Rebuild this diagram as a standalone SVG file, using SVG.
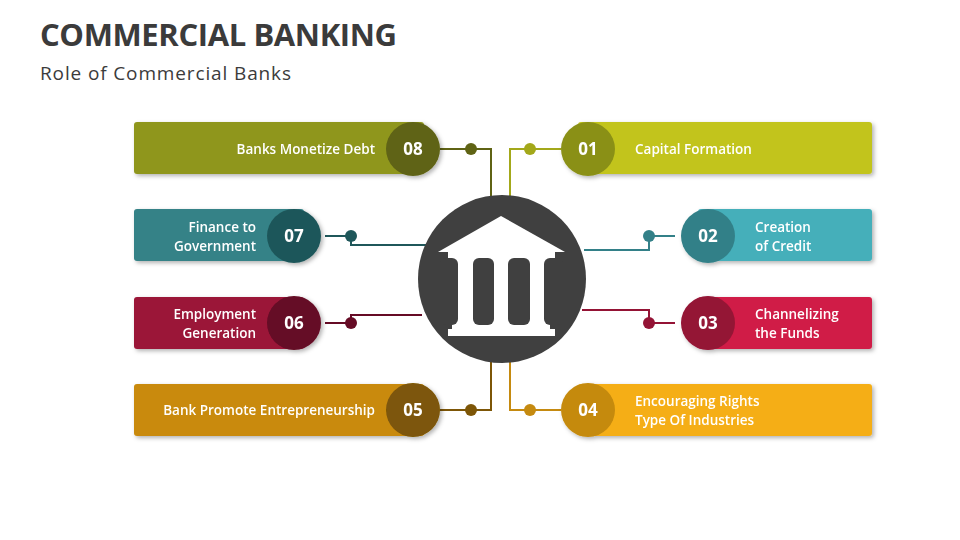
<svg xmlns="http://www.w3.org/2000/svg" width="960" height="540" viewBox="0 0 960 540">
<defs>
<filter id="sh" x="-20%" y="-30%" width="140%" height="160%"><feDropShadow dx="2" dy="2" stdDeviation="2" flood-color="#000" flood-opacity="0.3"/></filter>
<style>
text{font-family:"Open Sans","Liberation Sans",sans-serif;fill:#fff;font-weight:600}
.lbl{font-size:13.5px}
.num{font-size:17px;font-weight:700;text-anchor:middle}
.ln{fill:none;stroke-width:2}
</style>
</defs>
<rect width="960" height="540" fill="#fff"/>
<text x="40" y="46" style="font-size:31px;font-weight:700;fill:#3b3b3b" textLength="357">COMMERCIAL BANKING</text>
<text x="40" y="80" style="font-size:19px;font-weight:400;fill:#3b3b3b" textLength="251">Role of Commercial Banks</text>
<g id="connectors">
<polyline class="ln" stroke="#5F6314" points="440,149 491,149 491,198"/><circle cx="471" cy="149" r="6" fill="#5F6314"/>
<polyline class="ln" stroke="#A3A81A" points="561,149 510,149 510,198"/><circle cx="530" cy="149" r="6" fill="#A3A81A"/>
<polyline class="ln" stroke="#1F575A" points="325,236 351,236 351,245 428,245"/><circle cx="351" cy="236" r="6" fill="#1F575A"/>
<polyline class="ln" stroke="#338088" points="675,236 649,236 649,250 584,250"/><circle cx="649" cy="236" r="6" fill="#338088"/>
<polyline class="ln" stroke="#650B25" points="325,323 351,323 351,315 422,315"/><circle cx="351" cy="323" r="6" fill="#650B25"/>
<polyline class="ln" stroke="#941335" points="675,323 649,323 649,310 582,310"/><circle cx="649" cy="323" r="6" fill="#941335"/>
<polyline class="ln" stroke="#7D5607" points="440,410 491,410 491,360"/><circle cx="471" cy="410" r="6" fill="#7D5607"/>
<polyline class="ln" stroke="#C58A10" points="561,410 510,410 510,360"/><circle cx="530" cy="410" r="6" fill="#C58A10"/>
</g>
<g id="center">
<circle cx="502" cy="279" r="84" fill="#404040"/>
<polygon points="438,252 501,216 565,252" fill="#fff"/>
<rect x="448" y="252" width="107" height="84" fill="#fff"/>
<rect x="440" y="258" width="18" height="67" rx="6" fill="#404040"/>
<rect x="473" y="258" width="21" height="67" rx="6" fill="#404040"/>
<rect x="508" y="258" width="22" height="67" rx="6" fill="#404040"/>
<rect x="544" y="258" width="19" height="67" rx="6" fill="#404040"/>
<rect x="440" y="325" width="12" height="4" fill="#404040"/>
<rect x="550" y="325" width="12" height="4" fill="#404040"/>
</g>
<g id="n08" filter="url(#sh)"><rect x="134" y="122" width="290" height="52" rx="3" fill="#8F961E"/><circle cx="413" cy="149" r="27" fill="#5F6314"/><text class="lbl" x="375" y="154" text-anchor="end">Banks Monetize Debt</text><text class="num" x="413" y="155">08</text></g>
<g id="n07" filter="url(#sh)"><rect x="134" y="209" width="170" height="52" rx="3" fill="#348287"/><circle cx="294" cy="236" r="27" fill="#1F575A"/><text class="lbl" x="256" y="232" text-anchor="end">Finance to</text><text class="lbl" x="256" y="251" text-anchor="end">Government</text><text class="num" x="294" y="242">07</text></g>
<g id="n06" filter="url(#sh)"><rect x="134" y="297" width="170" height="52" rx="3" fill="#9B1538"/><circle cx="294" cy="323" r="27" fill="#650B25"/><text class="lbl" x="256" y="319" text-anchor="end">Employment</text><text class="lbl" x="256" y="338" text-anchor="end">Generation</text><text class="num" x="294" y="329">06</text></g>
<g id="n05" filter="url(#sh)"><rect x="134" y="384" width="290" height="52" rx="3" fill="#C98A0A"/><circle cx="413" cy="410" r="27" fill="#7D5607"/><text class="lbl" x="375" y="415" text-anchor="end">Bank Promote Entrepreneurship</text><text class="num" x="413" y="416">05</text></g>
<g id="n01" filter="url(#sh)"><rect x="578" y="122" width="294" height="52" rx="3" fill="#C2C41F"/><circle cx="588" cy="149" r="27" fill="#8A9018"/><text class="lbl" x="635" y="154">Capital Formation</text><text class="num" x="588" y="155">01</text></g>
<g id="n02" filter="url(#sh)"><rect x="698" y="209" width="174" height="52" rx="3" fill="#44AFBA"/><circle cx="708" cy="236" r="27" fill="#338088"/><text class="lbl" x="755" y="232">Creation</text><text class="lbl" x="755" y="251">of Credit</text><text class="num" x="708" y="242">02</text></g>
<g id="n03" filter="url(#sh)"><rect x="698" y="297" width="174" height="52" rx="3" fill="#D01B46"/><circle cx="708" cy="323" r="27" fill="#941335"/><text class="lbl" x="755" y="319">Channelizing</text><text class="lbl" x="755" y="338">the Funds</text><text class="num" x="708" y="329">03</text></g>
<g id="n04" filter="url(#sh)"><rect x="578" y="384" width="294" height="52" rx="3" fill="#F5AE15"/><circle cx="588" cy="410" r="27" fill="#C58A10"/><text class="lbl" x="635" y="406">Encouraging Rights</text><text class="lbl" x="635" y="425">Type Of Industries</text><text class="num" x="588" y="416">04</text></g>
</svg>
